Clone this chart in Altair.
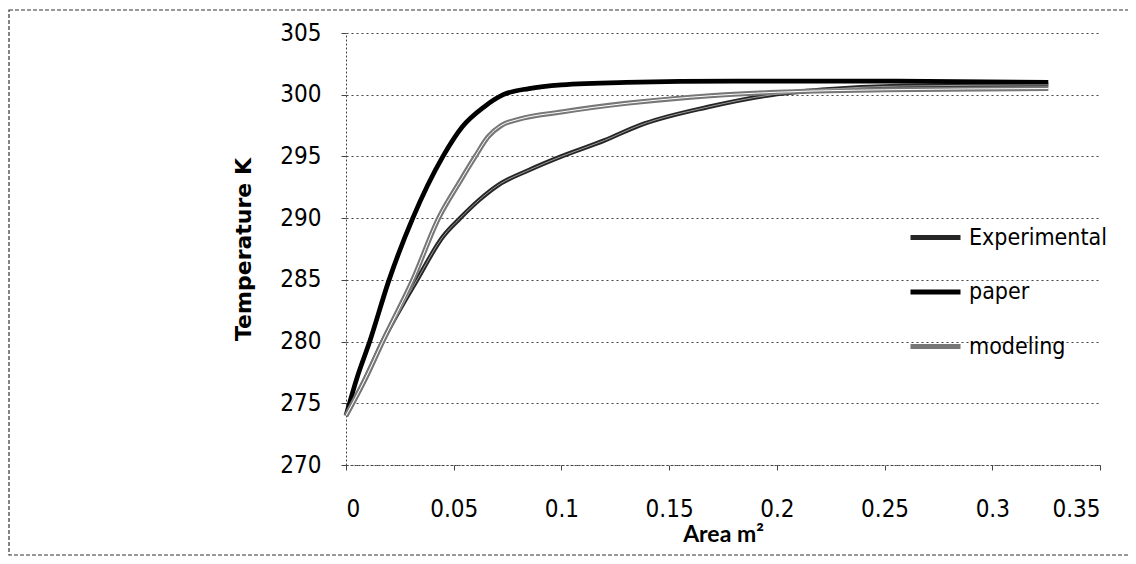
import altair as alt
import pandas as pd

series_names = ["Experimental", "paper", "modeling"]

exp_area = [0, 0.009, 0.017, 0.033, 0.045, 0.053, 0.062, 0.070, 0.085, 0.100, 0.120, 0.136, 0.168, 0.198, 0.221, 0.257, 0.326]
exp_temp = [274.0, 277.0, 280.0, 285.0, 288.5, 290.0, 291.5, 292.6, 293.9, 295.0, 296.3, 297.5, 299.0, 300.0, 300.4, 300.7, 300.8]

paper_area = [0, 0.005, 0.011, 0.020, 0.031, 0.045, 0.054, 0.064, 0.073, 0.085, 0.100, 0.130, 0.180, 0.250, 0.326]
paper_temp = [274.0, 277.0, 280.0, 285.0, 290.0, 295.0, 297.4, 299.0, 300.0, 300.5, 300.8, 301.0, 301.1, 301.1, 301.0]

model_area = [0, 0.009, 0.017, 0.031, 0.043, 0.053, 0.060, 0.066, 0.072, 0.080, 0.100, 0.130, 0.160, 0.200, 0.250, 0.326]
model_temp = [274.0, 277.0, 280.0, 285.0, 290.0, 293.0, 295.0, 296.6, 297.5, 298.0, 298.6, 299.3, 299.8, 300.2, 300.4, 300.5]

x_ticks = [0, 0.05, 0.1, 0.15, 0.2, 0.25, 0.3, 0.35]
y_ticks = [270, 275, 280, 285, 290, 295, 300, 305]

rows = []
for name, xs, ys in [("Experimental", exp_area, exp_temp),
                     ("paper", paper_area, paper_temp),
                     ("modeling", model_area, model_temp)]:
    for i, (a, t) in enumerate(zip(xs, ys)):
        rows.append({"series": name, "area": a, "temp": t, "order": i})
df = pd.DataFrame(rows)

NARROW = "'Liberation Sans Narrow', 'DejaVu Sans Condensed', Lato"
FONT = "Lato"

xenc = alt.X("area:Q",
             scale=alt.Scale(domain=[0, 0.35], nice=False, zero=False),
             axis=alt.Axis(values=x_ticks, format="~g", title="Area m²",
                           grid=False, domain=True, domainColor="#444",
                           domainDash=[2, 2], ticks=True, tickSize=5,
                           tickColor="#444", labelPadding=27, titlePadding=2,
                           titleFont=FONT, titleFontSize=23))
yenc = alt.Y("temp:Q",
             scale=alt.Scale(domain=[270, 305], nice=False, zero=False),
             axis=alt.Axis(values=y_ticks, title="Temperature K",
                           grid=True, gridColor="#444", gridDash=[2, 3],
                           gridWidth=1, domain=True, domainColor="#444",
                           domainDash=[2, 2], ticks=True, tickSize=5,
                           tickColor="#444", labelPadding=20, titlePadding=24,
                           titleFont="DejaVu Sans", titleFontSize=22))

legend = alt.Legend(title=None, orient="none", legendX=562, legendY=177,
                    symbolType="stroke", symbolSize=2500, labelOffset=6,
                    rowPadding=14.5, labelFont=NARROW, labelFontSize=23,
                    labelLimit=400, labelColor="#000", symbolStrokeWidth=5)

lines = alt.Chart(df).mark_line(interpolate="monotone").encode(
    x=xenc, y=yenc, order="order:Q",
    color=alt.Color("series:N",
                    scale=alt.Scale(domain=series_names,
                                    range=["#262626", "#000000", "#777777"]),
                    legend=legend),
    strokeWidth=alt.StrokeWidth("series:N",
                                scale=alt.Scale(domain=series_names,
                                                range=[4.5, 5, 3]),
                                legend=None),
)

centers = alt.Chart(df).transform_filter(
    alt.FieldOneOfPredicate(field="series", oneOf=["Experimental", "modeling"])
).mark_line(interpolate="monotone", strokeWidth=1).encode(
    x="area:Q", y="temp:Q", order="order:Q", detail="series:N",
    stroke=alt.Stroke("series:N",
                      scale=alt.Scale(domain=["Experimental", "modeling"],
                                      range=["#9a9a9a", "#ffffff"]),
                      legend=None),
)

border = alt.Chart(pd.DataFrame({"a": [0]})).mark_rect(
    fillOpacity=0, stroke="#333", strokeWidth=1.2, strokeDash=[4, 2]
).encode(x=alt.value(-337), x2=alt.value(790), y=alt.value(-23), y2=alt.value(522))

chart = alt.layer(border, lines, centers).resolve_scale(
    color="independent", stroke="independent"
).properties(
    width=754, height=432,
    autosize=alt.AutoSizeParams(type="none"),
    padding={"left": 338, "top": 25, "right": 28, "bottom": 91},
    background="white",
).configure_view(strokeWidth=0).configure_axis(
    labelFont=NARROW, labelFontSize=24, labelColor="#000",
    titleFontWeight="bold", titleColor="#000",
)

chart.save("out.html", embed_options={"renderer": "svg", "actions": False})
